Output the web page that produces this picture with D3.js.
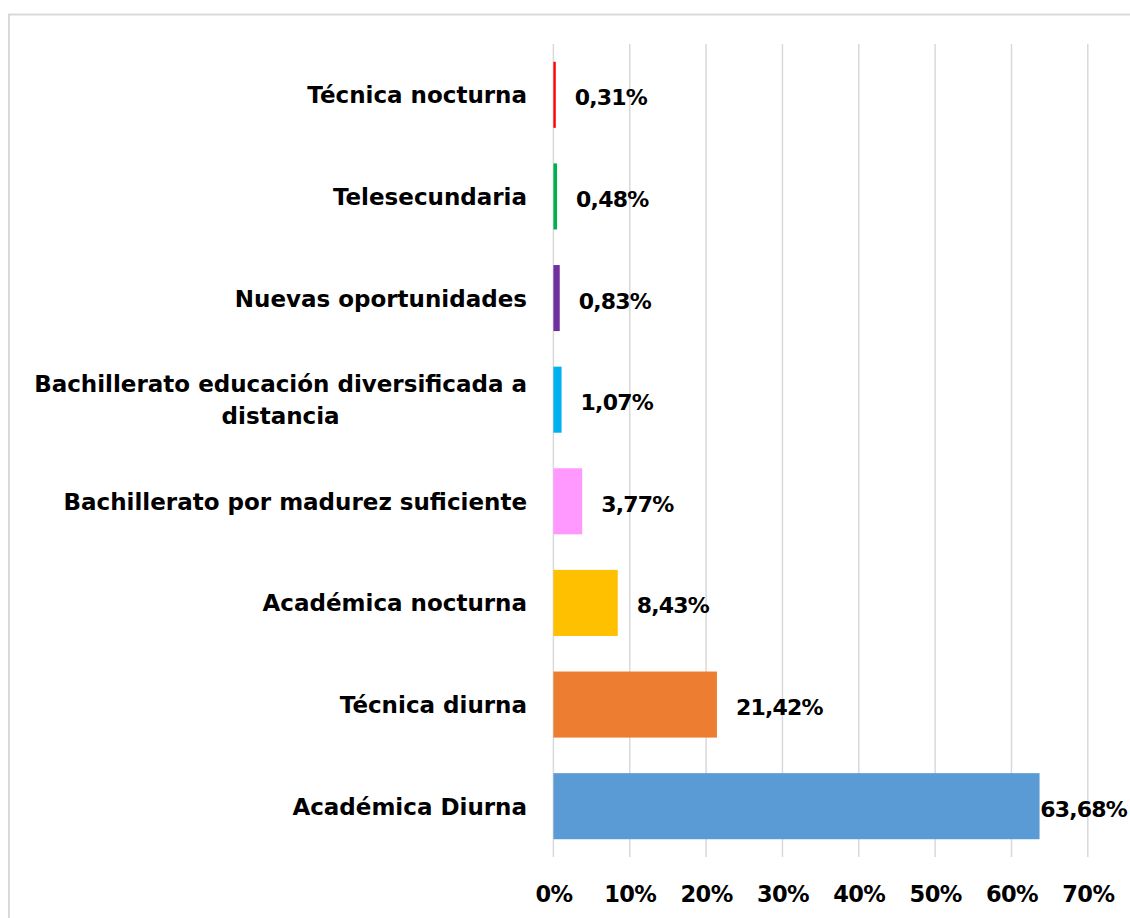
<!DOCTYPE html>
<html>
<head>
<meta charset="utf-8">
<script src="https://cdn.jsdelivr.net/npm/d3@7"></script>
<style>
  html, body { margin: 0; padding: 0; background: #fff; }
  svg { display: block; }
  text { font-family: "DejaVu Sans", sans-serif; font-weight: bold; fill: #000; }
</style>
</head>
<body>
<svg id="chart" width="1130" height="918"></svg>
<script>
const categories = [
  "Técnica nocturna",
  "Telesecundaria",
  "Nuevas oportunidades",
  "Bachillerato educación diversificada a distancia",
  "Bachillerato por madurez suficiente",
  "Académica nocturna",
  "Técnica diurna",
  "Académica Diurna"
];
const values = [0.31, 0.48, 0.83, 1.07, 3.77, 8.43, 21.42, 63.68];
const valueLabels = ["0,31%", "0,48%", "0,83%", "1,07%", "3,77%", "8,43%", "21,42%", "63,68%"];
const colors = ["#FF0000", "#00B050", "#7030A0", "#00B0F0", "#FF99FF", "#FFC000", "#ED7D31", "#5B9BD5"];
const tickValues = [0, 10, 20, 30, 40, 50, 60, 70];
const tickLabels = ["0%", "10%", "20%", "30%", "40%", "50%", "60%", "70%"];
const labelLines = {
  "Bachillerato educación diversificada a distancia": ["Bachillerato educación diversificada a", "distancia"]
};

const W = 1130, H = 918;
const svg = d3.select("#chart");
const FONT = '"DejaVu Sans", sans-serif';

// chart border
svg.append("rect")
  .attr("x", 9).attr("y", 14.5)
  .attr("width", 1140).attr("height", 920)
  .attr("fill", "none").attr("stroke", "#d9d9d9").attr("stroke-width", 2);

const plotLeft = 553.4, plotRight = 1087.8, plotTop = 44, plotBottom = 857;
const x = d3.scaleLinear().domain([0, 70]).range([plotLeft, plotRight]);
const y = d3.scaleBand().domain(categories).range([plotTop, plotBottom]).paddingInner(0.35).paddingOuter(0.175);

// gridlines
svg.append("g").selectAll("line").data(tickValues).join("line")
  .attr("x1", d => x(d)).attr("x2", d => x(d))
  .attr("y1", plotTop).attr("y2", plotBottom)
  .attr("stroke", "#d9d9d9").attr("stroke-width", 1.5);

// x axis labels
const xAxis = d3.axisBottom(x).tickValues(tickValues).tickFormat((d, i) => tickLabels[i]).tickSize(0).tickPadding(0);
const gx = svg.append("g").attr("transform", `translate(0, ${plotBottom})`).call(xAxis);
gx.select(".domain").remove();
gx.selectAll("text").attr("dy", null).attr("y", 45).style("font-size", "22.5px")
  .style("letter-spacing", "-0.6px")
  .style("font-family", FONT).style("font-weight", "bold").attr("fill", "#000");

// bars
svg.append("g").selectAll("rect").data(categories).join("rect")
  .attr("x", x(0))
  .attr("y", d => y(d))
  .attr("width", (d, i) => x(values[i]) - x(0))
  .attr("height", y.bandwidth())
  .attr("fill", (d, i) => colors[i]);

// category labels
const catG = svg.append("g");
const rightEdge = 527;
const catSize = "23px";
categories.forEach((c, i) => {
  const lines = labelLines[c] || [c];
  const cy = y(c) + y.bandwidth() / 2;
  const lh = 32;
  const t = catG.append("text").style("font-size", catSize);
  if (lines.length === 1) {
    t.attr("text-anchor", "end").attr("x", rightEdge).attr("y", cy + 8.5).text(lines[0]);
  } else {
    const tmp = catG.append("text").style("font-size", catSize).text(lines[0]);
    const w = tmp.node().getComputedTextLength();
    tmp.remove();
    const center = rightEdge - w / 2;
    t.attr("text-anchor", "middle");
    lines.forEach((ln, j) => {
      t.append("tspan")
        .attr("x", center)
        .attr("y", cy + 8.5 + (j - (lines.length - 1) / 2) * lh)
        .text(ln);
    });
  }
});

// value labels (kept inside the chart's right edge)
svg.append("g").selectAll("text").data(categories).join("text")
  .attr("y", d => y(d) + y.bandwidth() / 2 + 10.5)
  .style("font-size", "22px")
  .style("letter-spacing", "-0.8px")
  .text((d, i) => valueLabels[i])
  .each(function(d, i) {
    const w = this.getComputedTextLength();
    d3.select(this).attr("x", Math.min(x(values[i]) + 19, W - 3 - w));
  });
</script>
</body>
</html>
